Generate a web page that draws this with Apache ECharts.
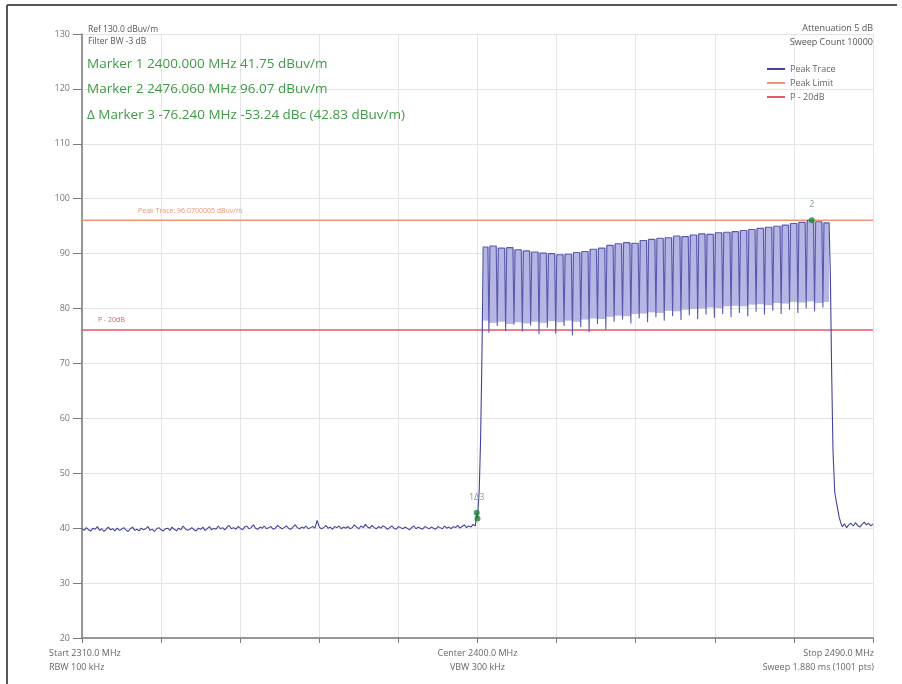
<!DOCTYPE html>
<html>
<head>
<meta charset="utf-8">
<script src="https://cdn.jsdelivr.net/npm/echarts@6/dist/echarts.min.js"></script>
<style>
  html, body { margin: 0; padding: 0; background: #ffffff; }
  #chart { width: 902px; height: 684px; }
</style>
</head>
<body>
<div id="chart"></div>
<script>
// Sweep settings (MHz)
const START_MHZ = 2310.0;
const STOP_MHZ = 2490.0;
const DIV_MHZ = 18;

// Level axis (dBuV/m)
const LEVEL_MIN = 20;
const LEVEL_MAX = 130;
const LEVEL_STEP = 10;

// Noise floor below the band, 0.5 MHz steps from 2310.0 MHz
const NOISE_STEP = 0.5;
const lowNoise = [
  39.9, 39.6, 40.1, 39.7, 39.5, 40.0, 39.8, 40.3, 39.6, 39.9, 39.4, 39.8, 40.2, 39.7, 39.9, 39.5, 40.0, 39.6, 39.8, 40.1,
  39.7, 39.4, 39.9, 40.2, 39.6, 39.8, 39.5, 40.0, 39.7, 39.9, 40.3, 39.6, 39.8, 39.4, 39.9, 40.1, 39.7, 39.5, 39.9, 40.0,
  39.6, 40.2, 39.8, 39.5, 40.0, 39.7, 40.4, 39.9, 39.6, 39.8, 40.1, 39.7, 39.5, 40.0, 39.8, 40.2, 39.6, 39.9, 40.3, 39.7,
  40.0, 39.8, 40.4, 39.9, 40.1, 39.7, 40.2, 40.5, 39.9, 40.1, 39.8, 40.3, 40.0, 39.7, 40.2, 40.4, 39.9, 40.1, 40.6, 40.0,
  39.8, 40.2, 40.0, 40.4, 39.9, 40.1, 40.3, 39.8, 40.0, 40.5, 40.2, 39.9, 40.1, 40.4, 40.0, 39.8, 40.2, 40.6, 40.1, 39.9,
  40.2, 40.0, 40.4, 39.9, 40.1, 40.3, 40.0, 41.4, 40.2, 39.9, 40.1, 40.5, 40.0, 40.2, 39.8, 40.3, 40.1, 40.4, 39.9, 40.2,
  40.0, 40.3, 39.9, 40.1, 40.6, 40.2, 39.9, 40.4, 40.1, 40.7, 40.2, 40.0, 40.5, 40.1, 39.9, 40.3, 40.0, 40.4, 40.2, 39.8,
  40.1, 40.4, 40.0, 39.8, 40.3, 40.1, 39.9, 40.2, 40.0, 39.7, 40.1, 40.4, 39.9, 40.2, 40.0, 39.8, 40.3, 40.1, 39.9, 40.2,
  40.0, 39.8, 40.3, 40.1, 39.9, 40.4, 40.0, 40.2, 39.9, 40.3, 40.1, 40.5, 40.0, 40.3, 40.6, 40.1, 40.4, 40.2, 40.7, 40.4
];

// Lower band edge: marker points and the rising skirt [MHz, dBuV/m]
const lowerEdge = [
  [2399.82, 42.83], [2400.00, 41.75], [2400.40, 47.0], [2400.70, 56.0],
  [2400.95, 68.0], [2401.15, 80.0]
];

// Occupied band
const BAND_START = 2401.3;
const BAND_STOP = 2480.0;
const DIP_HALF = 0.25;

// Gaps between channels: frequency and minimum level
const dipFreq = [
  2402.6, 2404.5, 2406.4, 2408.3, 2410.2, 2412.1, 2414.0, 2415.9, 2417.8, 2419.7,
  2421.6, 2423.5, 2425.4, 2427.3, 2429.2, 2431.1, 2433.0, 2434.9, 2436.8, 2438.7,
  2440.6, 2442.5, 2444.4, 2446.3, 2448.2, 2450.1, 2452.0, 2453.9, 2455.8, 2457.7,
  2459.6, 2461.5, 2463.4, 2465.3, 2467.2, 2469.1, 2471.0, 2472.9, 2474.8, 2476.7,
  2478.6
];
const dipLevel = [
  75.6, 76.8, 75.9, 77.1, 75.8, 76.9, 75.3, 76.5, 75.4, 76.8,
  75.1, 76.6, 75.7, 77.2, 76.2, 77.6, 78.0, 77.3, 78.2, 77.5,
  78.4, 77.8, 78.6, 77.9, 78.8, 78.1, 78.9, 78.3, 79.0, 78.4,
  79.2, 78.6, 79.4, 78.9, 79.6, 79.0, 79.8, 79.2, 80.0, 79.5,
  80.2
];

// Per channel: peak level and lower edge of the hopping spread
const channelPeak = [
  91.2, 91.4, 91.0, 91.1, 90.7, 90.5, 90.3, 90.1, 90.0, 89.8,
  89.9, 90.2, 90.4, 90.8, 91.0, 91.5, 91.8, 92.0, 91.9, 92.4,
  92.6, 92.8, 92.9, 93.2, 93.1, 93.4, 93.6, 93.5, 93.8, 93.9,
  94.0, 94.2, 94.4, 94.6, 94.8, 95.0, 95.2, 95.5, 95.7, 96.07,
  95.8, 95.6
];
const channelFloor = [
  77.8, 77.4, 77.6, 77.2, 77.5, 77.3, 77.6, 77.4, 77.7, 77.5,
  77.8, 77.6, 78.0, 78.2, 78.1, 78.5, 78.7, 78.6, 79.0, 79.1,
  79.3, 79.2, 79.6, 79.5, 79.8, 79.9, 80.0, 80.2, 80.1, 80.4,
  80.5, 80.4, 80.7, 80.8, 80.6, 81.0, 80.9, 81.2, 81.1, 81.3,
  81.0, 81.2
];

// Upper band edge: falling skirt [MHz, dBuV/m]
const upperEdge = [
  [2480.3, 86.0], [2480.6, 68.0], [2480.9, 54.0], [2481.3, 46.5],
  [2481.8, 44.2], [2482.3, 42.0], [2482.7, 40.9]
];

// Noise floor above the band, 0.5 MHz steps from 2483.0 MHz
const HIGH_NOISE_START = 2483.0;
const highNoise = [40.3, 40.8, 40.1, 40.6, 40.9, 40.4, 41.0, 40.5, 40.2, 40.7, 41.1, 40.6, 40.9, 40.4, 40.8];

// Limit lines
const PEAK_LIMIT = 96.07;
const P_MINUS_20 = 76.07;

// Markers
const markers = [
  { f: 2400.000, v: 41.75, tag: '' },
  { f: 2476.060, v: 96.07, tag: '2' },
  { f: 2399.820, v: 42.83, tag: '1\u03943' }
];

// Header / footer annotations
const markerReadouts = [
  'Marker 1 2400.000 MHz 41.75 dBuv/m',
  'Marker 2 2476.060 MHz 96.07 dBuv/m',
  '\u0394 Marker 3 -76.240 MHz -53.24 dBc (42.83 dBuv/m)'
];
const setupLeft = ['Ref 130.0 dBuv/m', 'Filter BW -3 dB'];
const setupRight = ['Attenuation 5 dB', 'Sweep Count 10000'];
const footLeft = ['Start 2310.0 MHz', 'RBW 100 kHz'];
const footCenter = ['Center 2400.0 MHz', 'VBW 300 kHz'];
const footRight = ['Stop 2490.0 MHz', 'Sweep 1.880 ms (1001 pts)'];
const peakLimitLabel = 'Peak Trace: 96.0700005 dBuv/m';
const p20Label = 'P - 20dB';
const legendNames = ['Peak Trace', 'Peak Limit', 'P - 20dB'];

const COLORS = {
  trace: '#42429a',
  traceBand: '#5a5aab',
  spread: '#b6b6e5',
  peakLimit: '#ef9475',
  p20: '#e5566a',
  marker: '#23843a',
  readout: '#3f9a45',
  text: '#666666',
  axis: '#7a7a7a',
  grid: '#e4e4e4'
};

// x positions are plotted as offset from the start frequency
const off = f => +(f - START_MHZ).toFixed(4);

// Build the measured trace
const trace = [];
lowNoise.forEach((v, i) => trace.push([off(START_MHZ + i * NOISE_STEP), v]));
lowerEdge.forEach(p => trace.push([off(p[0]), p[1]]));
trace.push([off(BAND_START), channelPeak[0]]);
dipFreq.forEach((f, i) => {
  trace.push([off(f - DIP_HALF), channelPeak[i]]);
  trace.push([off(f), dipLevel[i]]);
  trace.push([off(f + DIP_HALF), channelPeak[i + 1]]);
});
trace.push([off(BAND_STOP), channelPeak[channelPeak.length - 1]]);
upperEdge.forEach(p => trace.push([off(p[0]), p[1]]));
highNoise.forEach((v, i) => trace.push([off(HIGH_NOISE_START + i * NOISE_STEP), v]));

// Spread of hopping channels: one block per channel
const spread = channelPeak.map((pk, i) => [
  off(i === 0 ? BAND_START : dipFreq[i - 1]),
  off(i === channelPeak.length - 1 ? BAND_STOP : dipFreq[i]),
  channelFloor[i],
  pk
]);

const span = STOP_MHZ - START_MHZ;
const chart = echarts.init(document.getElementById('chart'), null, { renderer: 'canvas' });

const GRID = { left: 82, right: 29, top: 34, bottom: 46 };
const FONT = 'Open Sans, Noto Sans, sans-serif';

chart.setOption({
  animation: false,
  backgroundColor: '#ffffff',
  grid: GRID,
  legend: {
    orient: 'vertical',
    left: 767,
    top: 63,
    padding: 0,
    itemWidth: 18,
    itemHeight: 2,
    itemGap: 2,
    icon: 'rect',
    textStyle: { fontSize: 9, color: '#666', fontFamily: FONT, lineHeight: 12 },
    data: legendNames
  },
  visualMap: {
    show: false,
    type: 'piecewise',
    seriesIndex: 3,
    dimension: 0,
    pieces: [
      { lt: off(BAND_START - 0.1), color: COLORS.trace },
      { gte: off(BAND_START - 0.1), lte: off(BAND_STOP + 0.1), color: COLORS.traceBand },
      { gt: off(BAND_STOP + 0.1), color: COLORS.trace }
    ]
  },
  xAxis: {
    type: 'value',
    min: 0,
    max: span,
    interval: DIV_MHZ,
    axisLine: { show: true, onZero: false, lineStyle: { color: COLORS.axis, width: 1.5 } },
    axisTick: { show: true, inside: false, length: 5, lineStyle: { color: COLORS.axis } },
    axisLabel: { show: false },
    splitLine: { show: true, lineStyle: { color: COLORS.grid, width: 1 } }
  },
  yAxis: {
    type: 'value',
    min: LEVEL_MIN,
    max: LEVEL_MAX,
    interval: LEVEL_STEP,
    axisLine: { show: true, lineStyle: { color: COLORS.axis, width: 1.5 } },
    axisTick: { show: true, length: 9, lineStyle: { color: COLORS.axis } },
    axisLabel: { fontSize: 9, color: '#777', margin: 12, fontFamily: FONT },
    splitLine: { show: true, lineStyle: { color: COLORS.grid, width: 1 } }
  },
  series: [
    {
      name: 'Spread',
      type: 'custom',
      clip: true,
      silent: true,
      encode: { x: [0, 1], y: [2, 3] },
      data: spread,
      renderItem: (params, api) => {
        const a = api.coord([api.value(0), api.value(3)]);
        const b = api.coord([api.value(1), api.value(2)]);
        return {
          type: 'rect',
          shape: { x: a[0], y: a[1], width: b[0] - a[0], height: b[1] - a[1] },
          style: { fill: COLORS.spread }
        };
      },
      z: 1
    },
    {
      name: 'Peak Limit',
      type: 'line',
      symbol: 'none',
      data: [[0, PEAK_LIMIT], [span, PEAK_LIMIT]],
      lineStyle: { color: COLORS.peakLimit, width: 1.5 },
      itemStyle: { color: COLORS.peakLimit },
      z: 2
    },
    {
      name: 'P - 20dB',
      type: 'line',
      symbol: 'none',
      data: [[0, P_MINUS_20], [span, P_MINUS_20]],
      lineStyle: { color: COLORS.p20, width: 1.5 },
      itemStyle: { color: COLORS.p20 },
      z: 2
    },
    {
      name: 'Peak Trace',
      type: 'line',
      symbol: 'none',
      data: trace,
      lineStyle: { width: 1.1 },
      itemStyle: { color: COLORS.trace },
      z: 3
    },
    {
      name: 'Markers',
      type: 'scatter',
      symbol: 'circle',
      symbolSize: 6,
      data: markers.map(m => ({ value: [off(m.f), m.v], tag: m.tag })),
      itemStyle: { color: COLORS.marker },
      label: {
        show: true,
        position: 'top',
        distance: 8,
        fontSize: 9,
        color: '#6a8f6a',
        fontFamily: FONT,
        formatter: p => p.data.tag
      },
      z: 4
    }
  ]
});

// Texts around the plot
const gfx = [];
gfx.push({ type: 'line', shape: { x1: 7, y1: 5, x2: 897, y2: 5 }, style: { stroke: '#555', lineWidth: 2 } });
gfx.push({ type: 'line', shape: { x1: 7, y1: 5, x2: 7, y2: 684 }, style: { stroke: '#555', lineWidth: 2 } });

setupLeft.forEach((t, i) => gfx.push({
  type: 'text', left: 88, top: 25 + i * 12,
  style: { text: t, fontSize: 8.5, fill: '#555', fontFamily: FONT }
}));
markerReadouts.forEach((t, i) => gfx.push({
  type: 'text', left: 87, top: 57 + i * 25.5,
  style: { text: t, fontSize: 13.5, fill: COLORS.readout, fontFamily: FONT }
}));
setupRight.forEach((t, i) => gfx.push({
  type: 'text', right: 29, top: 24 + i * 14,
  style: { text: t, fontSize: 9, fill: '#555', fontFamily: FONT, align: 'right' }
}));

const footTop = 649;
footLeft.forEach((t, i) => gfx.push({
  type: 'text', left: 49, top: footTop + i * 14,
  style: { text: t, fontSize: 9, fill: COLORS.text, fontFamily: FONT }
}));
const cPix = chart.convertToPixel({ gridIndex: 0 }, [off(2400), LEVEL_MIN]);
footCenter.forEach((t, i) => gfx.push({
  type: 'text', x: cPix[0], y: footTop + i * 14,
  style: { text: t, fontSize: 9, fill: COLORS.text, fontFamily: FONT, align: 'center', verticalAlign: 'top' }
}));
footRight.forEach((t, i) => gfx.push({
  type: 'text', x: 874, y: footTop + i * 14,
  style: { text: t, fontSize: 9, fill: COLORS.text, fontFamily: FONT, align: 'right', verticalAlign: 'top' }
}));

// Labels riding on the limit lines
const plPix = chart.convertToPixel({ gridIndex: 0 }, [0, PEAK_LIMIT]);
gfx.push({
  type: 'text', x: plPix[0] + 56, y: plPix[1] - 6,
  style: { text: peakLimitLabel, fontSize: 7, fill: COLORS.peakLimit, fontFamily: FONT, verticalAlign: 'bottom' }
});
const p20Pix = chart.convertToPixel({ gridIndex: 0 }, [0, P_MINUS_20]);
gfx.push({
  type: 'text', x: p20Pix[0] + 16, y: p20Pix[1] - 7,
  style: { text: p20Label, fontSize: 7, fill: COLORS.p20, fontFamily: FONT, verticalAlign: 'bottom' }
});

chart.setOption({ graphic: gfx });
</script>
</body>
</html>
